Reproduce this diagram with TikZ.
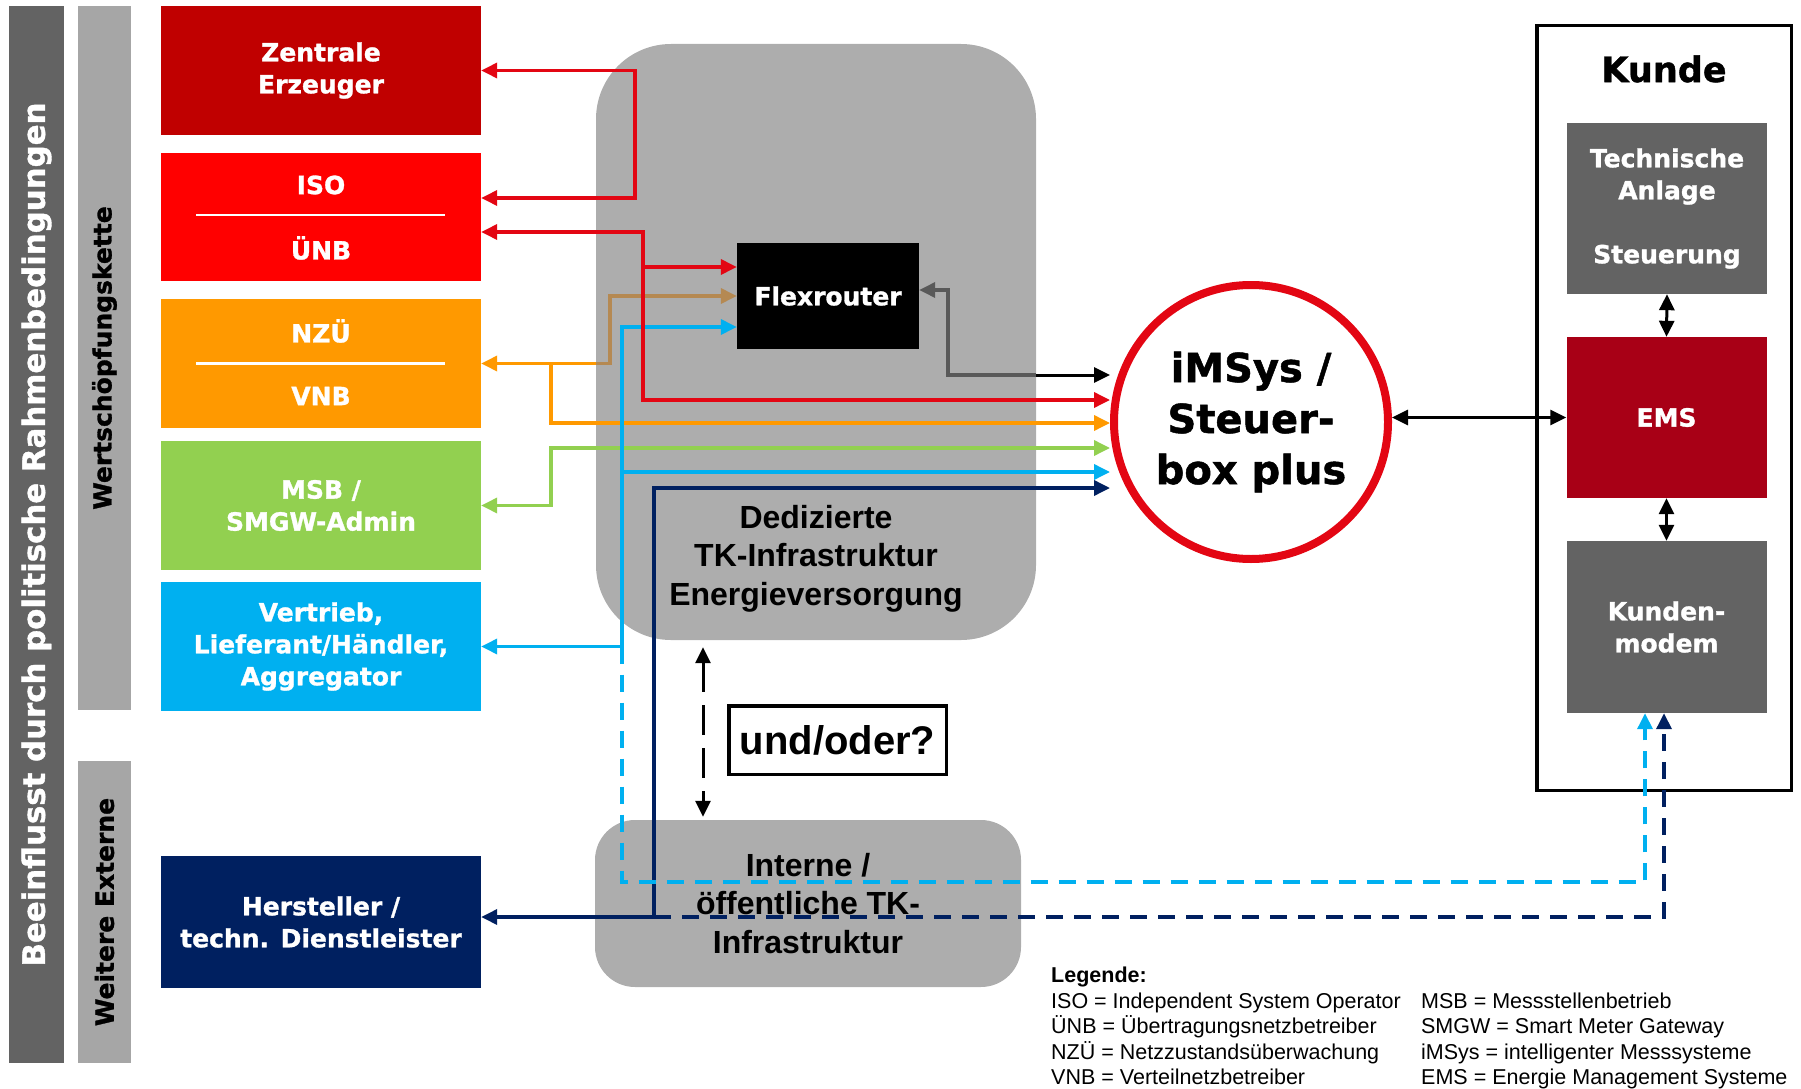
\documentclass[tikz,border=0pt]{standalone}
\usepackage{fontspec}
\setmainfont{Liberation Sans}
\newfontfamily\heavy{DejaVu Sans}[BoldFeatures={FakeBold=1.2}]
\usetikzlibrary{arrows.meta}

\definecolor{cZen}{RGB}{192,0,0}
\definecolor{cIso}{RGB}{255,0,0}
\definecolor{cNzu}{RGB}{255,153,0}
\definecolor{cMsb}{RGB}{146,208,80}
\definecolor{cVer}{RGB}{0,176,240}
\definecolor{cHer}{RGB}{0,32,96}
\definecolor{cDk}{RGB}{99,99,99}
\definecolor{cLt}{RGB}{166,166,166}
\definecolor{cTk}{RGB}{173,173,173}
\definecolor{cEms}{RGB}{168,0,22}
\definecolor{cRing}{RGB}{227,6,19}
\definecolor{cBrn}{RGB}{181,137,82}
\definecolor{cGry}{RGB}{89,89,89}

\begin{document}
\begin{tikzpicture}[x=1pt,y=-1pt,
  >={Triangle[length=16pt,width=15pt]},
  bar/.style={rotate=90,inner sep=0pt,font=\heavy\bfseries\fontsize{25}{30}\selectfont},
  box/.style={minimum width=320pt,minimum height=129pt,inner sep=0pt,align=center,
    text=white,font=\heavy\bfseries\fontsize{25}{32}\selectfont},
  lbl/.style={inner sep=0pt,text=white,font=\heavy\bfseries\fontsize{25}{32}\selectfont},
  kbox/.style={box,minimum width=200pt},
  tk/.style={fill=cTk,inner sep=0pt,align=center,font=\bfseries\fontsize{32}{38.5}\selectfont},
  sep/.style={draw=white,line width=2.5pt},
  ln/.style={line width=3.5pt,draw=#1},
  dsh/.style={dash pattern=on 17pt off 11pt}]
\useasboundingbox (0,0) rectangle (1801,1089);

% Randleisten
\node [bar,fill=cDk,text=white,minimum width=1057pt,minimum height=55pt,
  font=\heavy\bfseries\fontsize{30.8}{36}\selectfont] (pol) at (36.5,534.5)
  {Beeinflusst durch politische Rahmenbedingungen};
\node [bar,fill=cLt,minimum width=704pt,minimum height=53pt] (wsk) at (104.5,358) {Wertschöpfungskette};
\node [bar,fill=cLt,minimum width=302pt,minimum height=53pt] (ext) at (104.5,912) {Weitere Externe};

% Akteure
\node [box,fill=cZen] (zen) at (321,70.5) {Zentrale\\Erzeuger};
\node [box,fill=cIso,minimum height=128pt] (iso) at (321,217) {};
\node [lbl] (isot) at ([yshift=32pt]iso.center) {ISO};
\node [lbl] (unbt) at ([yshift=-31pt]iso.center) {ÜNB};
\draw [sep] ([xshift=-125pt,yshift=2pt]iso.center)--([xshift=124pt,yshift=2pt]iso.center);
\node [box,fill=cNzu] (nzu) at (321,363.5) {};
\node [lbl] (nzut) at ([yshift=32.5pt]nzu.center) {NZÜ};
\node [lbl] (vnbt) at ([yshift=-32.5pt]nzu.center) {VNB};
\draw [sep] ([xshift=-125pt]nzu.center)--([xshift=124pt]nzu.center);
\node [box,fill=cMsb] (msb) at (321,505.5) {MSB /\\SMGW-Admin};
\node [box,fill=cVer] (ver) at (321,646.5) {Vertrieb,\\Lieferant/Händler,\\Aggregator};
\node [box,fill=cHer,minimum height=132pt] (her) at (321,922) {Hersteller /\\techn. Dienstleister};

% TK-Infrastruktur
\node [tk,minimum width=440pt,minimum height=596pt,rounded corners=75pt] (dedi) at (816,342) {};
\node [tk,fill=none] (dedit) at (816,558.5) {Dedizierte\\TK-Infrastruktur\\Energieversorgung};
\node [tk,minimum width=426pt,minimum height=167pt,rounded corners=40pt] (inter) at (808,903.5)
  {Interne /\\öffentliche TK-\\Infrastruktur};
\node [fill=black,minimum width=182pt,minimum height=106pt,inner sep=0pt,text=white,
  font=\heavy\bfseries\fontsize{25}{32}\selectfont] (flex) at (828,296) {Flexrouter};
\node [circle,draw=cRing,fill=white,line width=8pt,minimum size=274pt,inner sep=0pt,align=center,
  font=\heavy\bfseries\fontsize{40}{51}\selectfont] (ims) at (1251,422) {iMSys /\\Steuer-\\box plus};
\node [draw=black,line width=3.5pt,inner sep=0pt,minimum width=217.5pt,minimum height=68.5pt,
  font=\bfseries\fontsize{40}{48}\selectfont] (undo) at (837.5,740) {und/oder?};

% Kunde
\node [draw=black,line width=3.5pt,minimum width=254.5pt,minimum height=764.5pt] (kunde) at (1664,408) {};
\node [font=\heavy\bfseries\fontsize{35}{40}\selectfont] (kundet) at (1664,69) {Kunde};
\node [kbox,fill=cDk,minimum height=171pt] (tech) at (1667,208.5) {Technische\\Anlage\\[32pt]Steuerung};
\node [kbox,fill=cEms,minimum height=161pt] (ems) at (1666.5,417.5) {EMS};
\node [kbox,fill=cDk,minimum height=172pt] (mod) at (1666.5,627) {Kunden-\\modem};

% Legende
\node [anchor=north west,inner sep=0pt,font=\fontsize{21.5}{25.3}\selectfont] (leg) at (1051,965) {%
  \begin{tabular}{@{}p{370pt}@{}l@{}}
  \multicolumn{2}{@{}l@{}}{\textbf{Legende:}}\\
  ISO = Independent System Operator & MSB = Messstellenbetrieb\\
  ÜNB = Übertragungsnetzbetreiber & SMGW = Smart Meter Gateway\\
  NZÜ = Netzzustandsüberwachung & iMSys = intelligenter Messsysteme\\
  VNB = Verteilnetzbetreiber & EMS = Energie Management Systeme
  \end{tabular}};

\coordinate (fxa) at ([yshift=29pt]flex.west);
\coordinate (fxc) at ([yshift=-31pt]flex.west);
\coordinate (imk) at ([yshift=47pt]ims.west);
\coordinate (imc) at ([yshift=-50pt]ims.west);

% Hersteller
\draw [ln=cHer,<->] ([yshift=5pt]her.east) -- ++(173,0) coordinate (herbus) |- ([yshift=-66pt]ims.west);
\draw [ln=cHer,dsh,->] (herbus) -| ([xshift=-2.5pt]mod.south);
% NZÜ / VNB
\draw [ln=cNzu,<->] (nzu.east) -- ++(70,0) coordinate (vnbbus) |- ([yshift=-1pt]ims.west);
\draw [ln=cNzu] (vnbbus) -- (dedi.west |- vnbbus);
% MSB
\draw [ln=cMsb,<->] (msb.east) -- ++(70,0) |- ([yshift=-26pt]ims.west);
% Vertrieb
\draw [ln=cVer,<->] (ver.east) -- ++(141,0) coordinate (verbus) |- (fxc);
\draw [ln=cVer,->] (verbus |- imc) -- (imc);
\draw [ln=cVer,dsh,->] (verbus) -- ++(0,235.5) -| ([xshift=-21.5pt]mod.south);
\draw [ln=cBrn,->] (dedi.west |- vnbbus) -- ++(14,0) |- (flex.west);
% ISO / ÜNB
\draw [ln=cRing,<->] (zen.east) -- ++(154,0) |- ([yshift=19pt]iso.east);
\draw [ln=cRing,<->] ([yshift=-15pt]iso.east) -- ++(162,0) coordinate (unbbus) |- ([yshift=22pt]ims.west);
\draw [ln=cRing,->] (unbbus |- fxa) -- (fxa);
% Flexrouter
\draw [ln=cGry,<-] ([yshift=6pt]flex.east) -- ++(29,0) |- (dedi.east |- imk);
\draw [ln=black,line width=3pt,->] (dedi.east |- imk) -- (imk);
% Kunde
\draw [ln=black,line width=3pt,<->] (ims.east |- ems.west) -- (ems.west);
\draw [ln=black,line width=3pt,<->] (tech.south) -- (ems.north);
\draw [ln=black,line width=3pt,<->] (ems.south) -- (mod.north);
% und/oder
\draw [ln=black,line width=3pt,dash pattern=on 30pt off 13pt,<->]
  ([xshift=-113pt,yshift=-7pt]dedi.south) -- ([xshift=-105pt,yshift=3pt]inter.north);
\end{tikzpicture}
\end{document}
